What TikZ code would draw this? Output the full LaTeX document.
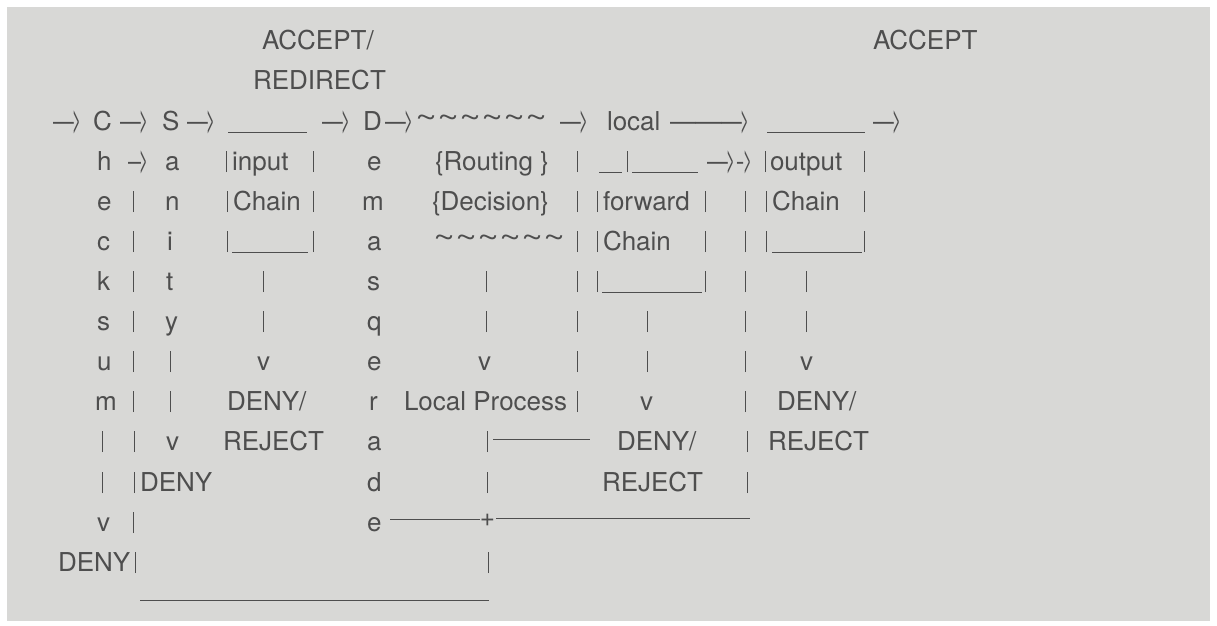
\documentclass[tikz,border=0pt]{standalone}
\usepackage{fontspec}
\setmainfont{TeX Gyre Heros}
\usepackage{graphicx}
\definecolor{bg}{RGB}{216,216,214}
\definecolor{fg}{RGB}{78,78,78}
\newcommand{\chv}{\raisebox{-1.5pt}{\scalebox{0.58}[1.4]{>}}}
\newcommand{\arr}{\scalebox{0.8}[1]{\textemdash}\kern-1.2pt\chv}
\newcommand{\sarr}{\scalebox{0.9}[1]{\textendash}\kern-1.2pt\chv}
\newcommand{\larr}{\textemdash\kern-0.5pt\textemdash\kern-0.5pt\scalebox{0.8}[1]{\textemdash}\kern-1.2pt\chv}
\newcommand{\vb}{\rule[-2pt]{0.9pt}{21pt}}
\newcommand{\tld}{\raisebox{3pt}{\scalebox{1.45}[1.1]{\textasciitilde}}}
\newcommand{\tlds}{\tld\tld\tld\tld\tld\tld}
\begin{document}
\begin{tikzpicture}[x=1pt,y=-1pt,
  txt/.style={anchor=base west,inner sep=0pt,outer sep=0pt,text=fg,font=\fontsize{26}{30}\selectfont},
  ln/.style={draw=fg,line width=0.9pt}]
\fill[white] (0,0) rectangle (1217,625);
\fill[bg] (7,7) rectangle (1210,621);
\useasboundingbox (0,0) rectangle (1217,625);
% row 0,1
\node[txt] (acc1) at (262,49) {ACCEPT/};
\node[txt] (acc2) at (873,49) {ACCEPT};
\node[txt] (redir) at (253,89) {REDIRECT};
% row 2
\node[txt] (r2a1) at (53,130) {\arr};
\node[txt] (C) at (93,130) {C};
\node[txt] (r2a2) at (120,130) {\arr};
\node[txt] (S) at (162,130) {S};
\node[txt] (r2a3) at (187,130) {\arr};
\coordinate (u1a) at (228,132); \coordinate (u1b) at (307,132);
\node[txt] (r2a4) at (322,130) {\arr};
\node[txt] (D) at (363,130) {D};
\node[txt] (r2a5) at (385,130) {\arr};
\node[txt] (t1) at (415,130) {\tlds};
\node[txt] (r2a6) at (560,130) {\arr};
\node[txt] (local) at (607,130) {local};
\node[txt] (r2a7) at (670,130) {\larr};
\coordinate (u2a) at (767,132); \coordinate (u2b) at (865,132);
\node[txt] (r2a8) at (873,130) {\arr};
% row 3
\node[txt] (h) at (97,170) {h};
\node[txt] (r3a1) at (128,170) {\sarr};
\node[txt] (a1) at (165,170) {a};
\node[txt] (b3a) at (226,170) {\vb};
\node[txt] (input) at (232,170) {input};
\node[txt] (b3b) at (313,170) {\vb};
\node[txt] (e1) at (367,170) {e};
\node[txt] (routing) at (435,170) {\{Routing \}};
\node[txt] (b3c) at (577,170) {\vb};
\coordinate (u3a) at (599,172); \coordinate (u3b) at (622,172);
\node[txt] (b3d) at (627,170) {\vb};
\coordinate (u4a) at (632,172); \coordinate (u4b) at (698,172);
\node[txt] (r3a2) at (707,170) {\arr\kern0.5pt-\kern-1.2pt\chv};
\node[txt] (b3e) at (765,170) {\vb};
\node[txt] (output) at (770,170) {output};
\node[txt] (b3f) at (864,170) {\vb};
% row 4
\node[txt] (e2) at (97,210) {e};
\node[txt] (b4a) at (133,210) {\vb};
\node[txt] (n) at (165,210) {n};
\node[txt] (b4b) at (227,210) {\vb};
\node[txt] (chain1) at (233,210) {Chain};
\node[txt] (b4c) at (313,210) {\vb};
\node[txt] (m1) at (362,210) {m};
\node[txt] (decision) at (432,210) {\{Decision\}};
\node[txt] (b4d) at (577,210) {\vb};
\node[txt] (b4e) at (597,210) {\vb};
\node[txt] (forward) at (603,210) {forward};
\node[txt] (b4f) at (705,210) {\vb};
\node[txt] (b4g) at (745,210) {\vb};
\node[txt] (b4h) at (766,210) {\vb};
\node[txt] (chain3) at (772,210) {Chain};
\node[txt] (b4i) at (864,210) {\vb};
% row 5
\node[txt] (c) at (97,250) {c};
\node[txt] (b5a) at (133,250) {\vb};
\node[txt] (i) at (167,250) {i};
\node[txt] (b5b) at (227,250) {\vb};
\coordinate (u5a) at (232,252); \coordinate (u5b) at (308,252);
\node[txt] (b5c) at (313,250) {\vb};
\node[txt] (a2) at (367,250) {a};
\node[txt] (t2) at (433,250) {\tlds};
\node[txt] (b5d) at (577,250) {\vb};
\node[txt] (b5e) at (597,250) {\vb};
\node[txt] (chain2) at (603,250) {Chain};
\node[txt] (b5f) at (705,250) {\vb};
\node[txt] (b5g) at (745,250) {\vb};
\node[txt] (b5h) at (766,250) {\vb};
\coordinate (u6a) at (772,252); \coordinate (u6b) at (862,252);
\node[txt] (b5i) at (864,250) {\vb};
% row 6
\node[txt] (k) at (97,290) {k};
\node[txt] (b6a) at (133,290) {\vb};
\node[txt] (t) at (166,290) {t};
\node[txt] (b6b) at (263,290) {\vb};
\node[txt] (s1) at (367,290) {s};
\node[txt] (b6c) at (486,290) {\vb};
\node[txt] (b6d) at (577,290) {\vb};
\node[txt] (b6e) at (597,290) {\vb};
\coordinate (u7a) at (602,292); \coordinate (u7b) at (702,292);
\node[txt] (b6f) at (705,290) {\vb};
\node[txt] (b6g) at (745,290) {\vb};
\node[txt] (b6h) at (806,290) {\vb};
% row 7
\node[txt] (s2) at (97,330) {s};
\node[txt] (b7a) at (133,330) {\vb};
\node[txt] (y) at (165,330) {y};
\node[txt] (b7b) at (263,330) {\vb};
\node[txt] (q) at (367,330) {q};
\node[txt] (b7c) at (486,330) {\vb};
\node[txt] (b7d) at (577,330) {\vb};
\node[txt] (b7e) at (647,330) {\vb};
\node[txt] (b7f) at (745,330) {\vb};
\node[txt] (b7g) at (806,330) {\vb};
% row 8
\node[txt] (u) at (97,370) {u};
\node[txt] (b8a) at (133,370) {\vb};
\node[txt] (b8b) at (170,370) {\vb};
\node[txt] (v1) at (257,370) {v};
\node[txt] (e3) at (367,370) {e};
\node[txt] (v2) at (478,370) {v};
\node[txt] (b8c) at (577,370) {\vb};
\node[txt] (b8d) at (647,370) {\vb};
\node[txt] (b8e) at (745,370) {\vb};
\node[txt] (v3) at (800,370) {v};
% row 9
\node[txt] (m2) at (95,410) {m};
\node[txt] (b9a) at (133,410) {\vb};
\node[txt] (b9b) at (170,410) {\vb};
\node[txt] (deny1) at (227,410) {DENY/};
\node[txt] (r) at (369,410) {r};
\node[txt] (lp) at (404,410) {Local Process};
\node[txt] (b9c) at (577,410) {\vb};
\node[txt] (v4) at (640,410) {v};
\node[txt] (b9d) at (745,410) {\vb};
\node[txt] (deny2) at (777,410) {DENY/};
% row 10
\node[txt] (b10a) at (102,450) {\vb};
\node[txt] (b10b) at (134,450) {\vb};
\node[txt] (v5) at (166,450) {v};
\node[txt] (rej1) at (223,450) {REJECT};
\node[txt] (a3) at (367,450) {a};
\node[txt] (b10c) at (487,450) {\vb};
\coordinate (l1a) at (493,439); \coordinate (l1b) at (590,439);
\node[txt] (deny3) at (617,450) {DENY/};
\node[txt] (b10d) at (747,450) {\vb};
\node[txt] (rej2) at (768,450) {REJECT};
% row 11
\node[txt] (b11a) at (102,491) {\vb};
\node[txt] (b11b) at (134,491) {\vb};
\node[txt] (deny4) at (140,491) {DENY};
\node[txt] (d) at (367,491) {d};
\node[txt] (b11c) at (487,491) {\vb};
\node[txt] (rej3) at (602,491) {REJECT};
\node[txt] (b11d) at (747,491) {\vb};
% row 12
\node[txt] (v6) at (97,531) {v};
\node[txt] (b12a) at (133,531) {\vb};
\node[txt] (e4) at (367,531) {e};
\node[txt,anchor=base] (plus) at (487.5,526) {+};
\coordinate (l2a) at (390,519); \coordinate (l2b) at (480,519);
\coordinate (l3a) at (496,518); \coordinate (l3b) at (750,518);
% row 13
\node[txt] (deny5) at (58,571) {DENY};
\node[txt] (b13a) at (135,571) {\vb};
\node[txt] (b13b) at (488,571) {\vb};
% row 14
\coordinate (l4a) at (140,600); \coordinate (l4b) at (489,600);
% lines
\draw[ln] (u1a) -- (u1b);
\draw[ln] (u2a) -- (u2b);
\draw[ln] (u3a) -- (u3b);
\draw[ln] (u4a) -- (u4b);
\draw[ln] (u5a) -- (u5b);
\draw[ln] (u6a) -- (u6b);
\draw[ln] (u7a) -- (u7b);
\draw[ln] (l1a) -- (l1b);
\draw[ln] (l2a) -- (l2b);
\draw[ln] (l3a) -- (l3b);
\draw[ln] (l4a) -- (l4b);
\end{tikzpicture}
\end{document}
